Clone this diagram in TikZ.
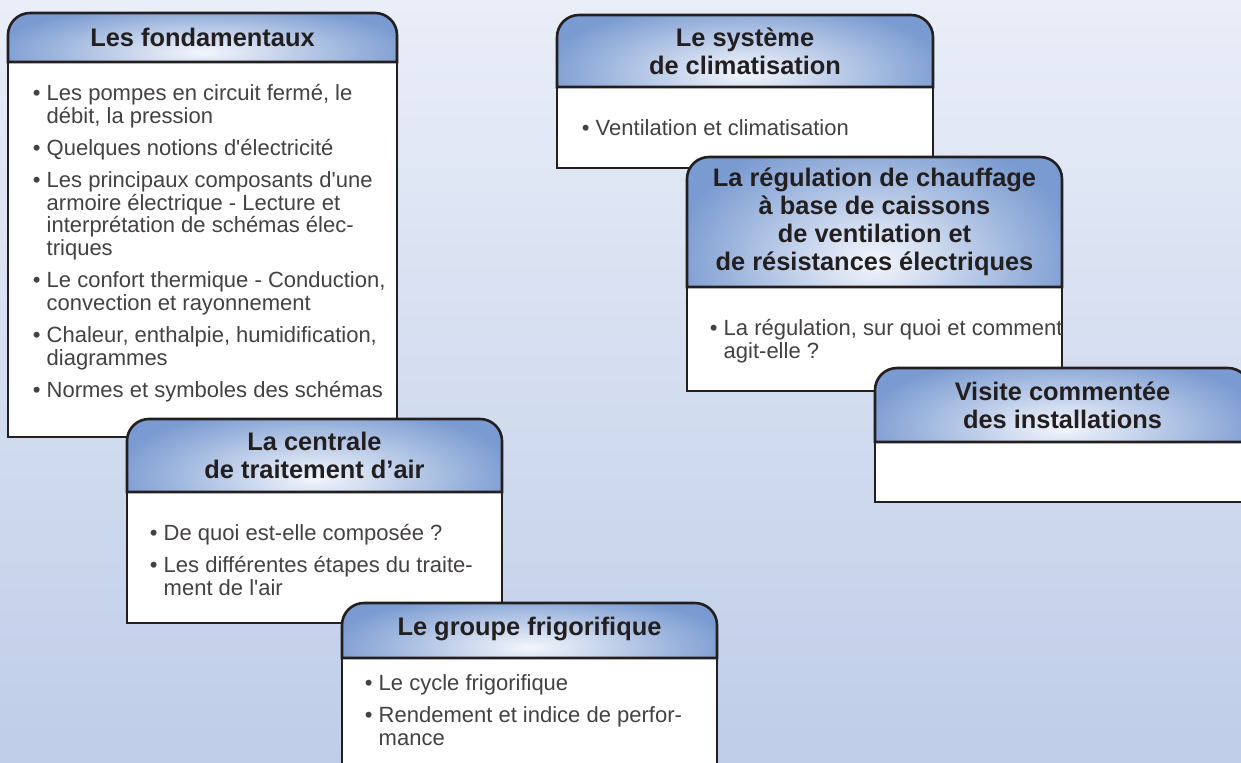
\documentclass[tikz,border=0pt]{standalone}
\usepackage{fontspec}
\setmainfont{Liberation Sans}
\definecolor{fondhaut}{HTML}{E9EEF8}
\definecolor{fondbas}{HTML}{BFCDE8}
\definecolor{bleu}{HTML}{7A9BD1}
\definecolor{lueur}{HTML}{F3F6FC}
\definecolor{trait}{HTML}{231F20}
\newcommand\suite{\phantom{\textbullet\ }}
\newcommand\apo{\textquotesingle}
\newcommand\haut{\rule{0pt}{8.5pt}}
\begin{document}
\begin{tikzpicture}[x=0.5pt,y=-0.5pt,
    bord/.style={draw=trait,line width=1.3pt},
    titre/.style={align=center,inner sep=0pt,text=trait,font=\fontsize{12.7pt}{14pt}\selectfont\bfseries},
    liste/.style={align=left,inner sep=0pt,anchor=north west,text=trait!85,font=\fontsize{11pt}{11.4pt}\selectfont}]
    \useasboundingbox (0,0) rectangle (1241,762);
    \clip (0,0) rectangle (1241,762);
    \shade[top color=fondhaut,bottom color=fondbas] (0,0) rectangle (1241,762);
    % les six fiches, dans l'ordre ou elles se recouvrent
    \foreach \xl/\xr/\yt/\yh/\yb in {8/397/13/62/437,127/502/419/492/623,342/717/603/658/790,
                                     557/933/15/87/168,687/1062/157/287/391,875/1250/368/442/502} {
        \pgfmathsetmacro\xm{(\xl+\xr)/2}
        \pgfmathsetmacro\yc{\yh-0.2*(\yh-\yt)}
        \pgfmathsetmacro\rx{0.27*(\xr-\xl)}
        \pgfmathsetmacro\ry{0.5*(\yh-\yt)}
        \draw[bord,fill=white] (\xl,\yh) rectangle (\xr,\yb);
        \begin{scope}
            \clip (\xl,\yh) [rounded corners=11pt] -- (\xl,\yt) -- (\xr,\yt) [sharp corners] -- (\xr,\yh) -- cycle;
            \fill[bleu] (\xl,\yt) rectangle (\xr,\yh);
            \shade[inner color=lueur,outer color=bleu] (\xm,\yc) ellipse ({\rx pt} and {\ry pt});
        \end{scope}
        \draw[bord] (\xl,\yh) [rounded corners=11pt] -- (\xl,\yt) -- (\xr,\yt) [sharp corners] -- (\xr,\yh) -- cycle;
    }
    \node[titre] (t1) at (202.5,37.5) {Les fondamentaux};
    \node[titre] (t2) at (314.5,455.5) {La centrale\\de traitement d’air};
    \node[titre] (t3) at (529.5,629) {Le groupe frigorifique};
    \node[titre] (t4) at (745,51) {Le système\\de climatisation};
    \node[titre] (t5) at (874.5,222) {La régulation de chauffage\\à base de caissons\\de ventilation et\\de résistances électriques};
    \node[titre] (t6) at (1062.5,405) {Visite commentée\\des installations};
    \node[liste] (l1) at (32.5,83) {\haut\textbullet\ Les pompes en circuit fermé, le\\\suite débit, la pression\\[4.6pt]
        \textbullet\ Quelques notions d\apo électricité\\[4.6pt]
        \textbullet\ Les principaux composants d\apo une\\\suite armoire électrique - Lecture et\\\suite interprétation de schémas élec-\\\suite triques\\[4.6pt]
        \textbullet\ Le confort thermique - Conduction,\\\suite convection et rayonnement\\[4.6pt]
        \textbullet\ Chaleur, enthalpie, humidification,\\\suite diagrammes\\[4.6pt]
        \textbullet\ Normes et symboles des schémas};
    \node[liste] (l2) at (149.5,523) {\haut\textbullet\ De quoi est-elle composée ?\\[4.6pt]
        \textbullet\ Les différentes étapes du traite-\\\suite ment de l\apo air};
    \node[liste] (l3) at (364.5,673) {\haut\textbullet\ Le cycle frigorifique\\[4.6pt]
        \textbullet\ Rendement et indice de perfor-\\\suite mance};
    \node[liste] (l4) at (581.5,118) {\haut\textbullet\ Ventilation et climatisation};
    \node[liste] (l5) at (709.5,318) {\haut\textbullet\ La régulation, sur quoi et comment\\\suite agit-elle ?};
\end{tikzpicture}
\end{document}
